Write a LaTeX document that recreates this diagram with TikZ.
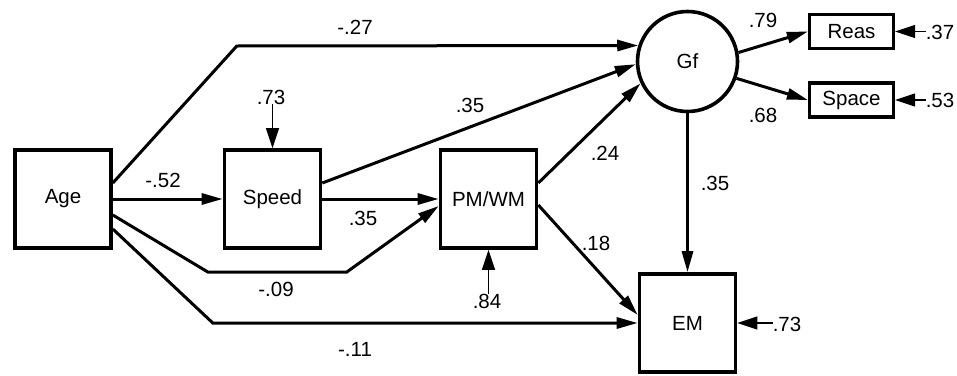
\documentclass[tikz,border=0pt]{standalone}
\usepackage{fontspec}
\setmainfont{Liberation Sans}
\definecolor{PathBlack}{HTML}{000000}
\definecolor{PathWhite}{HTML}{ffffff}
\usetikzlibrary{arrows.meta, shapes.geometric, calc}
\tikzset{
    % Boxes for the measured variables
    measure/.style={
        rectangle,
        draw=PathBlack,
        fill=PathWhite,
        line width=3.6pt,
        minimum width=96pt,
        minimum height=98pt,
        inner sep=0pt,
        align=center,
        font=\fontsize{20.5}{24}\selectfont
    },
    measure small/.style={
        measure,
        line width=3.2pt,
        minimum width=84pt,
        minimum height=34pt
    },
    latent/.style={
        circle,
        draw=PathBlack,
        fill=PathWhite,
        line width=3.6pt,
        minimum size=100pt,
        inner sep=0pt,
        font=\fontsize{20.5}{24}\selectfont
    },
    coef/.style={
        inner sep=0pt,
        font=\fontsize{20.5}{24}\selectfont
    },
    arrow style/.style={
        -{Triangle[length=21pt,width=11pt]},
        line width=3pt,
        PathBlack
    },
    resid style/.style={
        -{Triangle[length=20pt,width=13pt]},
        line width=1.3pt,
        PathBlack
    }
}
\begin{document}
\begin{tikzpicture}[x=1pt, y=-1pt]
        \useasboundingbox (0,0) rectangle (957,375);

        % Variables
        \node[measure] (age) at (63,199) {Age};
        \node[measure] (speed) at (272.5,199) {Speed};
        \node[measure] (pmwm) at (488.5,199) {PM/WM};
        \node[latent] (gf) at (687.5,61.5) {Gf};
        \node[measure] (em) at (687.5,323) {EM};
        \node[measure small] (reas) at (851.5,31.5) {Reas};
        \node[measure small] (space) at (851.5,100) {Space};

        % Residuals
        \node[coef] (rspeed) at (271,97) {.73};
        \node[coef] (rpmwm) at (487,301) {.84};
        \node[coef] (rem) at (787,324) {.73};
        \node[coef] (rreas) at (940,32) {.37};
        \node[coef] (rspace) at (940,100) {.53};
        \draw[resid style] (rspeed.south -| speed.north) -- (speed.north);
        \draw[resid style] (rpmwm.north -| pmwm.south) -- (pmwm.south);
        \draw[resid style] (rem.west |- em.east) -- (em.east);
        \draw[resid style] (rreas.west |- reas.east) -- (reas.east);
        \draw[resid style] (rspace.west |- space.east) -- (space.east);

        % Paths from Age
        \draw[arrow style] ($(age.east)+(0,-16)$) -- ++(124,-137) -- (gf.162);
        \draw[arrow style] (age) -- (speed);
        \draw[arrow style] ($(age.east)+(0,16)$) -- ++(95,57) -- ++(139,0) -- ($(pmwm.west)+(0,7)$);
        \draw[arrow style] ($(age.east)+(0,30)$) -- ++(100,94) -- (em.west);

        % Paths from Speed and PM/WM
        \draw[arrow style] ($(speed.east)+(0,-16)$) -- (gf.183);
        \draw[arrow style] (speed) -- (pmwm);
        \draw[arrow style] ($(pmwm.east)+(0,-16)$) -- (gf.205);
        \draw[arrow style] ($(pmwm.east)+(0,6)$) -- ($(em.west)+(0,-8)$);

        % Paths from Gf
        \draw[arrow style] (gf) -- (em);
        \draw[arrow style] (gf.10) -- (reas.west);
        \draw[arrow style] (gf.-19) -- (space.west);

        % Coefficients
        \node[coef] (cagegf) at (355,27) {-.27};
        \node[coef] (cagesp) at (163,180) {-.52};
        \node[coef] (cagepm) at (276,289) {-.09};
        \node[coef] (cageem) at (355,349) {-.11};
        \node[coef] (cspgf) at (470,105) {.35};
        \node[coef] (csppm) at (363,218) {.35};
        \node[coef] (cpmgf) at (605,153) {.24};
        \node[coef] (cpmem) at (596,243) {.18};
        \node[coef] (cgfem) at (715,183) {.35};
        \node[coef] (cgfre) at (763,20) {.79};
        \node[coef] (cgfsp) at (763,115) {.68};
\end{tikzpicture}
\end{document}
